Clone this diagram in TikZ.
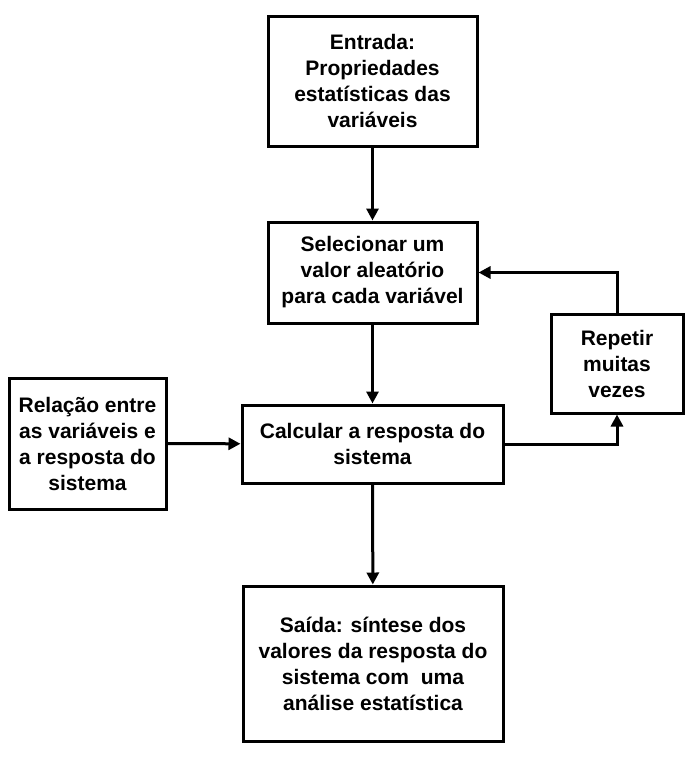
\documentclass[tikz,border=0pt]{standalone}
\usepackage{fontspec}
\setmainfont{Liberation Sans}
\usetikzlibrary{arrows.meta}

\begin{document}
\begin{tikzpicture}[x=1pt, y=-1pt,
   box/.style={draw, line width=3pt, inner sep=0pt, align=center,
      font=\fontsize{21}{26}\selectfont\bfseries},
   flow/.style={line width=3pt, -{Triangle[length=12pt,width=12pt]}}]
   \useasboundingbox (0,0) rectangle (699,758);

   \node [box, minimum width=209, minimum height=130] (entrada) at (372.5,81)
      {Entrada:\\Propriedades\\estatísticas das\\variáveis};
   \node [box, minimum width=209, minimum height=101] (selecionar) at (372.5,272.5)
      {Selecionar um\\valor aleatório\\para cada variável};
   \node [box, minimum width=261, minimum height=78] (calcular) at (372.5,444)
      {Calcular a resposta do\\sistema};
   \node [box, minimum width=157, minimum height=131] (relacao) at (87.5,443.5)
      {Relação entre\\as variáveis e\\a resposta do\\sistema};
   \node [box, minimum width=132, minimum height=99] (repetir) at (617,363.5)
      {Repetir\\muitas\\vezes};
   \node [box, minimum width=260, minimum height=155] (saida) at (373,663.5)
      {Saída: síntese dos\\valores da resposta do\\sistema com\ \ uma\\análise estatística};

   \draw [flow] (entrada) -- (selecionar);
   \draw [flow] (selecionar) -- (calcular);
   \draw [flow] (relacao) -- (calcular);
   \draw [flow] (calcular.east) -| (repetir.south);
   \draw [flow] (repetir.north) |- (selecionar.east);
   \draw [flow] (calcular) -- (saida);
\end{tikzpicture}
\end{document}
